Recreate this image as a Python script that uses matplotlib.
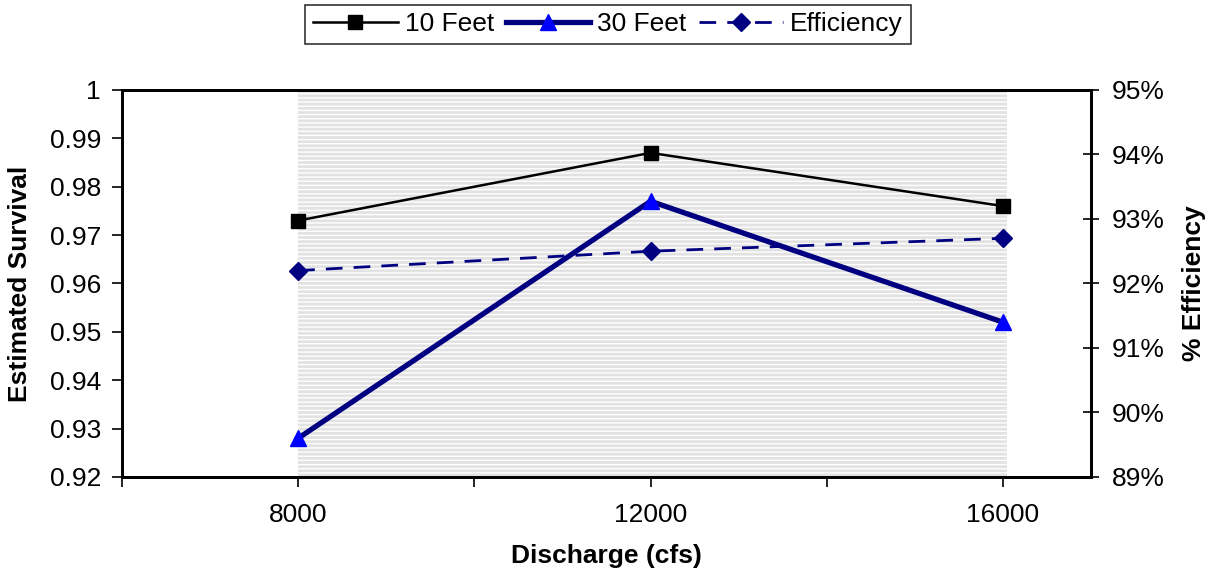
import matplotlib
matplotlib.use("Agg")
import matplotlib.pyplot as plt
from matplotlib.ticker import FuncFormatter

plt.rcParams["font.family"] = ["Liberation Sans", "DejaVu Sans"]
plt.rcParams["hatch.linewidth"] = 1.0

# data
discharge = [8000, 12000, 16000]
survival_10ft = [0.973, 0.987, 0.976]
survival_30ft = [0.928, 0.977, 0.952]
efficiency_pct = [92.2, 92.5, 92.7]

x_ticks = [6000, 8000, 10000, 12000, 14000, 16000]
x_tick_labels = ["", "8000", "", "12000", "", "16000"]
shade_range = (8000, 16050)

fig = plt.figure(figsize=(12.17, 5.79), dpi=100)
ax = fig.add_axes([0.1002, 0.1762, 0.7963, 0.6684])
ax2 = ax.twinx()

# grey striped band behind the data
ax.axvspan(*shade_range, facecolor="#e2e2e2", edgecolor="white",
           hatch="----", linewidth=0, zorder=0)

l1, = ax.plot(discharge, survival_10ft, color="black", lw=1.8,
              marker="s", ms=10.5, mfc="black", mec="black", zorder=3,
              label="10 Feet")
l2, = ax.plot(discharge, survival_30ft, color="#000080", lw=3.8,
              marker="^", ms=12, mfc="#0000ff", mec="#0000ff", zorder=3,
              label="30 Feet")
l3, = ax2.plot(discharge, efficiency_pct, color="#000080", lw=2,
               ls=(0, (6, 4)), marker="D", ms=9, mfc="#000080",
               mec="#000080", zorder=3, label="Efficiency")

ax.set_xlim(6000, 17000)
ax.set_ylim(0.92, 1.0)
ax.set_yticks([0.92 + 0.01 * i for i in range(9)])
ax.yaxis.set_major_formatter(FuncFormatter(lambda v, p: f"{v:.2f}".rstrip("0").rstrip(".")))
ax.set_xticks(x_ticks)
ax.set_xticklabels(x_tick_labels)

ax2.set_ylim(89, 95)
ax2.set_yticks(range(89, 96))
ax2.yaxis.set_major_formatter(FuncFormatter(lambda v, p: f"{v:.0f}%"))

ax.tick_params(axis="both", labelsize=19, length=7, width=1.2, direction="out")
ax.tick_params(axis="x", pad=12)
ax.tick_params(axis="y", pad=8)
ax2.tick_params(axis="y", labelsize=19, length=12, width=1.2, direction="inout", pad=9)

for a in (ax, ax2):
    for s in a.spines.values():
        s.set_linewidth(2)

ax.set_xlabel("Discharge (cfs)", fontsize=19, fontweight="bold")
ax.set_ylabel("Estimated Survival", fontsize=19, fontweight="bold")
ax2.set_ylabel("% Efficiency", fontsize=19, fontweight="bold")
ax.xaxis.set_label_coords(0.5, -0.172)
ax.yaxis.set_label_coords(-0.093, 0.5)
ax2.yaxis.set_label_coords(1.094, 0.5)

leg = fig.legend(handles=[l1, l2, l3], loc="center", bbox_to_anchor=(0.4996, 0.9577),
                 ncol=3, fontsize=19, frameon=True, fancybox=False,
                 handlelength=3.2, handletextpad=0.27, columnspacing=0.45,
                 borderpad=0.3, borderaxespad=0)
leg.get_frame().set_edgecolor("black")
leg.get_frame().set_linewidth(1.2)

fig.savefig("out.png", dpi=100)
